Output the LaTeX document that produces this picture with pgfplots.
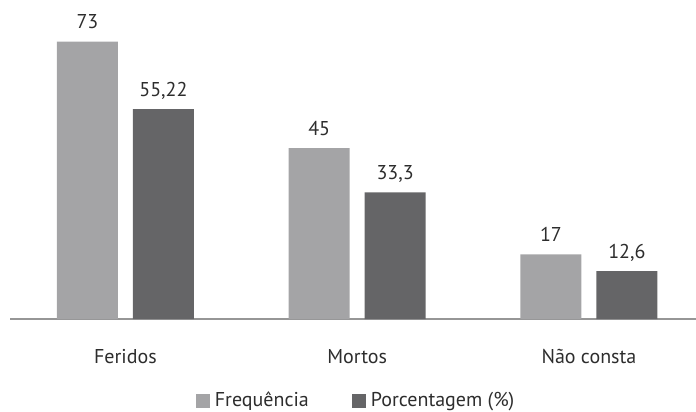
\documentclass[border=0pt]{standalone}
\usepackage{fontspec}
\setmainfont{PT Sans}
\usepackage{pgfplots}
\pgfplotsset{compat=1.18}
\definecolor{lightbar}{RGB}{164,164,166}
\definecolor{darkbar}{RGB}{101,101,103}
\definecolor{txt}{RGB}{45,45,45}
\definecolor{baseln}{RGB}{150,150,150}
\begin{document}
\begin{tikzpicture}
\begin{axis}[
  at={(5pt,46.5pt)}, anchor=south west,
  scale only axis, width=343pt, height=152pt,
  xmin=-0.498, xmax=2.462, ymin=0, ymax=80,
  ybar=7.5pt, bar width=30.5pt,
  axis x line*=bottom, axis y line=none,
  axis line style={-, draw=baseln, line width=0.6pt},
  xtick={0,1,2}, xticklabels={Feridos, Mortos, Não consta},
  xtick style={draw=none}, ytick=\empty,
  xticklabel style={anchor=base, yshift=-18pt, text=txt, font=\fontsize{10}{12}\selectfont},
  nodes near coords, point meta=explicit symbolic,
  every node near coord/.append style={anchor=base, yshift=6.5pt, text=txt, font=\fontsize{10}{12}\selectfont},
  legend columns=2,
  legend style={draw=none, fill=none, at={(0.507,-0.27)}, anchor=center,
    font=\fontsize{10}{12}\selectfont, text=txt,
    /tikz/every even column/.append style={column sep=19pt},
    nodes={inner sep=2.6pt}},
  sq/.style={legend image code/.code={\fill[##1] (0pt,-3.4pt) rectangle (6.8pt,3.4pt);}},
  clip=false,
]
\addplot[fill=lightbar, draw=none, sq] coordinates {(0,73) [73] (1,45) [45] (2,17) [17]};
\addplot[fill=darkbar, draw=none, sq] coordinates {(0,55.22) [55,22] (1,33.3) [33,3] (2,12.6) [12,6]};
\legend{Frequência, Porcentagem (\%)}
\end{axis}
\pgfresetboundingbox
\path (0,0) rectangle (348pt,206pt);
\end{tikzpicture}
\end{document}
